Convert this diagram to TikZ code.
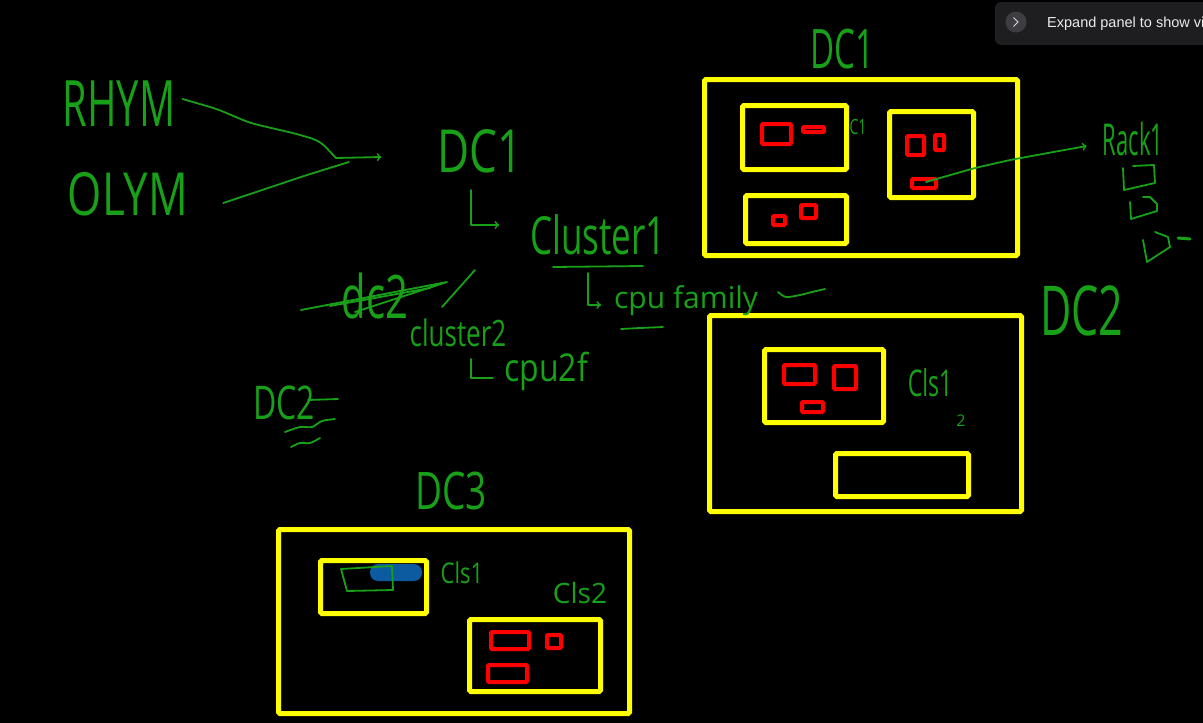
\documentclass[tikz,border=0pt]{standalone}
\usepackage{fontspec}
\usepackage{graphicx}
\setmainfont{Open Sans}
\newfontfamily\uifont{Liberation Sans}
\usetikzlibrary{calc}
\newcommand\fs[1]{\fontsize{#1}{#1}\selectfont}
\newcommand\tall[2]{\scalebox{1}[#1]{#2}}
\definecolor{ink}{RGB}{24,160,24}
\definecolor{dcyellow}{RGB}{255,255,0}
\definecolor{rackred}{RGB}{255,0,0}
\definecolor{blob}{RGB}{12,90,160}
\definecolor{panel}{RGB}{30,30,32}
\definecolor{knob}{RGB}{62,62,66}

\begin{document}
\begin{tikzpicture}[x=1pt, y=-1pt, >=to,
		ink/.style={draw=ink, line width=1.8pt, line cap=round, line join=round},
		hand/.style={text=ink, inner sep=1pt},
		dcbox/.style={draw=dcyellow, line width=5pt, rounded corners=1.5pt},
		rackbox/.style={draw=rackred, line width=4pt, rounded corners=1pt}]
	\fill[black] (0,0) rectangle (1203,723);
	\useasboundingbox (0,0) rectangle (1203,723);
	\clip (0,0) rectangle (1203,723);

	% panel of the screen
	\fill[panel, rounded corners=6pt] (995,2) rectangle (1220,45);
	\fill[knob] (1016,22) circle (10.5);
	\draw[white!85!black, line width=1pt] (1013.5,17.5) -- (1018,22) -- (1013.5,26.5);
	\node[anchor=west, inner sep=0pt, text=white!92!black, font=\uifont\fs{14.5}] (expand) at (1047,24) {Expand panel to show vi};

	% data centers
	\draw[dcbox] (704.5,79.5) rectangle (1017.5,255.5);
	\draw[dcbox] (742.5,105.5) rectangle (846.5,169.5);
	\draw[dcbox] (745.5,195.5) rectangle (846.5,243.5);
	\draw[dcbox] (889.5,111.5) rectangle (973.5,197.5);
	\draw[dcbox] (709.5,315.5) rectangle (1021.5,511.5);
	\draw[dcbox] (764.5,349.5) rectangle (883.5,422.5);
	\draw[dcbox] (835.5,453.5) rectangle (968.5,496.5);
	\draw[dcbox] (278.5,529.5) rectangle (629.5,713.5);
	\draw[dcbox] (320.5,560.5) rectangle (426.5,613.5);
	\draw[dcbox] (469.5,619.5) rectangle (600.5,691.5);

	% racks
	\foreach \xa/\ya/\xb/\yb in {762/124/791/144, 803/127/824/132, 773/216/785/225,
			801/205/816/218, 907/136/924/155, 935/135/944/150, 912/179/936/188,
			784/365/815/384, 834/366/856/389, 802/402/823/412,
			491/632/529/649, 547/635/561/648, 488/665/527/682}
		\draw[rackbox] (\xa,\ya) rectangle (\xb,\yb);

	\fill[blob, rounded corners=8pt] (370,564) rectangle (422,581);
	\draw[ink] (341,569) -- (392,566) -- (393,590) -- (347,591) -- cycle;

	% notes
	\node[hand, font=\fs{40}] (rhym) at (119,104) {\tall{1.6}{RHYM}};
	\node[hand, font=\fs{44}] (olym) at (128,194) {\tall{1.35}{OLYM}};
	\node[hand, font=\fs{44}] (dca) at (480,151) {\tall{1.35}{DC1}};
	\node[hand, font=\fs{35}] (clustera) at (598,235) {\tall{1.5}{Cluster1}};
	\node[hand, font=\fs{30}, anchor=base west] (cpufam) at (613,308) {cpu family};
	\node[hand, font=\fs{40}] (dccross) at (375,296) {\tall{1.5}{dc2}};
	\node[hand, font=\fs{26}] (clusterb) at (458,333) {\tall{1.4}{cluster2}};
	\node[hand, font=\fs{32}, anchor=base west] (cpub) at (503,381) {\tall{1.2}{cpu2f}};
	\node[hand, font=\fs{32}] (dcb) at (284,403) {\tall{1.45}{DC2}};
	\node[hand, font=\fs{33}] (dconetop) at (842,49) {\tall{1.65}{DC1}};
	\node[hand, font=\fs{14}] (cone) at (858,127) {\tall{1.5}{C1}};
	\node[hand, font=\fs{22}] (racka) at (1133,139) {\tall{2}{Rack1}};
	\node[hand, font=\fs{43}] (dctwo) at (1082,311) {\tall{1.6}{DC2}};
	\node[hand, font=\fs{23}] (clsa) at (930,383) {\tall{1.6}{Cls1}};
	\node[hand, font=\fs{16}] (two) at (961,421) {2};
	\node[hand, font=\fs{37}] (dcthree) at (451,491) {\tall{1.4}{DC3}};
	\node[hand, font=\fs{22}] (clsb) at (462,573) {\tall{1.3}{Cls1}};
	\node[hand, font=\fs{28}] (clsc) at (580,593) {Cls2};

	% RHYM and OLYM into DC1
	\coordinate (merge) at (336,158);
	\draw[ink, rounded corners=8pt] ($(rhym.east)+(6,-5)$) -- (217,109) -- (250,123) -- (297,134) -- (320,141) -- (merge);
	\draw[ink, rounded corners=8pt] ($(olym.east)+(34,9)$) -- (307,175) -- (349,162);
	\draw[ink, ->] (merge) -- ($(dca.west)+(-55,6)$);
	\draw[ink, ->] ($(dca.south)+(-9,16)$) |- ($(clustera.west)+(-30,-10)$);
	\draw[ink] (553,267) -- (643,266);
	\draw[ink, ->] ($(cpufam.base west)+(-25,-35)$) |- ($(cpufam.base west)+(-12,-3)$);
	\draw[ink] (621,329) -- (640,328) -- (663,327);
	\draw[ink] plot[smooth] coordinates {(778,292) (786,297) (800,295) (812,292) (825,289)};
	\draw[ink] (442,307) -- (475,270);
	\draw[ink] ($(cpub.base west)+(-32,-22)$) |- ($(cpub.base west)+(-10,-3)$);

	% crossed out
	\draw[ink] (301,310) -- (447,282) -- (355,312);
	\draw[ink] (330,306) -- (430,288);

	\draw[ink] (308,400) -- (338,399);
	\draw[ink] plot[smooth] coordinates {(285,432) (300,427) (312,427) (322,421) (335,419)};
	\draw[ink] plot[smooth] coordinates {(291,447) (300,443) (310,443) (320,438)};

	% rack link
	\coordinate (slot) at (926,182);
	\draw[ink, ->, rounded corners=6pt] (slot) -- (975,168) -- (1010,160) -- (1048,153) -- ($(racka.west)+(-15,7)$);
	\draw[ink] (1133,166) -- (1154,165) -- (1155,183) -- (1124,190) -- (1123,168);
	\draw[ink] (1143,197) -- (1150,197) -- (1157,204) -- (1157,211) -- (1131,219) -- (1130,202);
	\draw[ink] (1155,232) -- (1168,237) -- (1170,247) -- (1147,262) -- (1143,240);
	\draw[ink, line width=3pt] (1178,238) -- (1190,239);
\end{tikzpicture}
\end{document}
